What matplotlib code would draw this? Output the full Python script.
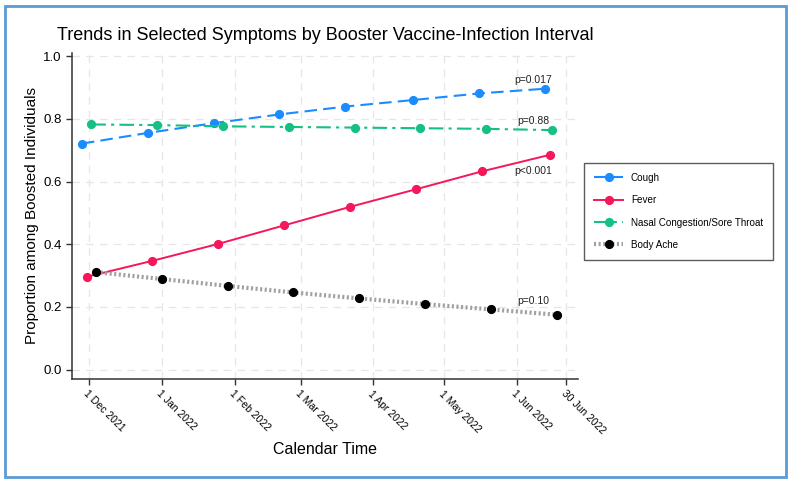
import matplotlib
matplotlib.use("Agg")
import matplotlib.pyplot as plt
from matplotlib.patches import Rectangle

plt.rcParams['font.family'] = ['Liberation Sans', 'DejaVu Sans']

# days since 1 Dec 2021
cough_x = [-3, 25, 53, 81, 109, 138, 166, 194]
cough_y = [0.721, 0.755, 0.786, 0.814, 0.839, 0.860, 0.881, 0.896]
fever_x = [-1, 27, 55, 83, 111, 139, 167, 196]
fever_y = [0.296, 0.347, 0.401, 0.460, 0.519, 0.575, 0.632, 0.685]
nasal_x = [1, 29, 57, 85, 113, 141, 169, 197]
nasal_y = [0.782, 0.780, 0.776, 0.774, 0.772, 0.770, 0.768, 0.764]
ache_x = [3, 31, 59, 87, 115, 143, 171, 199]
ache_y = [0.311, 0.289, 0.267, 0.246, 0.227, 0.209, 0.192, 0.175]

tick_days = [0, 31, 62, 90, 121, 151, 182, 203]
tick_labels = ['1 Dec 2021', '1 Jan 2022', '1 Feb 2022', '1 Mar 2022',
               '1 Apr 2022', '1 May 2022', '1 Jun 2022', '30 Jun 2022']

p_labels = ['p=0.017', 'p=0.88', 'p<0.001', 'p=0.10']
p_y = [0.924, 0.794, 0.632, 0.218]
p_x = 189

fig = plt.figure(figsize=(7.93, 4.83), dpi=100)
ax = fig.add_axes([0.0908, 0.2153, 0.638, 0.675])

# grid
ax.grid(True, color='#e6e6e6', linestyle=(0, (6, 5)), linewidth=0.9)
ax.set_axisbelow(True)

ms = 5.6
ax.plot(cough_x, cough_y, color='#1a8cff', linestyle=(0, (6, 3)), linewidth=1.5,
        marker='o', markersize=ms, label='Cough')
ax.plot(fever_x, fever_y, color='#f5175a', linestyle='-', linewidth=1.4,
        marker='o', markersize=ms, label='Fever')
ax.plot(nasal_x, nasal_y, color='#14c082', linestyle=(0, (7, 2.5, 1.5, 2.5)), linewidth=1.5,
        marker='o', markersize=ms, label='Nasal Congestion/Sore Throat')
ax.plot(ache_x, ache_y, color='#a0a0a0', linestyle=(0, (0.5, 0.6)), linewidth=3.0,
        marker='o', markersize=ms, markerfacecolor='black', markeredgecolor='black',
        label='Body Ache')

for lab, yy in zip(p_labels, p_y):
    ax.text(p_x, yy, lab, ha='center', va='center', fontsize=7.5, color='#222222')

ax.set_xlim(-7.2, 208)
ax.set_ylim(-0.03, 1.01)
ax.set_xticks(tick_days)
ax.set_xticklabels(tick_labels, rotation=-45, ha='left', rotation_mode='anchor', fontsize=7.5)
ax.set_yticks([0.0, 0.2, 0.4, 0.6, 0.8, 1.0])
ax.set_yticklabels(['0.0', '0.2', '0.4', '0.6', '0.8', '1.0'], fontsize=9.5)
ax.tick_params(direction='out', length=4, color='#333333', width=1)
ax.tick_params(axis='x', pad=3)

for s in ['top', 'right']:
    ax.spines[s].set_visible(False)
for s in ['left', 'bottom']:
    ax.spines[s].set_color('#333333')
    ax.spines[s].set_linewidth(1.1)

ax.set_xlabel('Calendar Time', fontsize=11.5, labelpad=4)
ax.set_ylabel('Proportion among Boosted Individuals', fontsize=11, labelpad=3)
fig.text(0.072, 0.927, 'Trends in Selected Symptoms by Booster Vaccine-Infection Interval',
         fontsize=13, ha='left', va='center')

leg = fig.legend(loc='upper left', bbox_to_anchor=(584 / 793, 1 - 163 / 483),
                 fontsize=7.1, frameon=True, fancybox=False,
                 handlelength=3.0, labelspacing=1.25,
                 borderpad=1.0, handletextpad=0.75, borderaxespad=0)
leg.get_frame().set_edgecolor('#333333')
leg.get_frame().set_linewidth(1.0)

fig.patches.append(Rectangle((0.0063, 0.0124), 0.985, 0.9752, transform=fig.transFigure,
                             fill=False, edgecolor='#5b9bd5', linewidth=2))

fig.savefig('out.png', dpi=100, facecolor='white')
